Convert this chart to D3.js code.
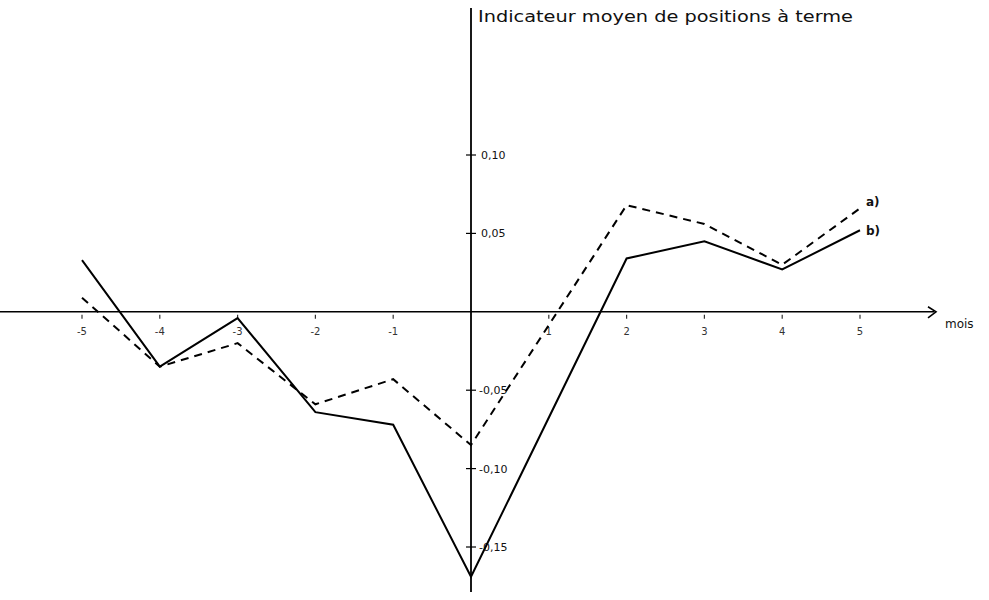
<!DOCTYPE html>
<html lang="fr">
<head>
    <meta charset="UTF-8">
    <title>Indicateur moyen de positions à terme</title>
    <script src="https://d3js.org/d3.v7.min.js"></script>
    <style>
        body { margin: 0; background: #fff; }
        text { font-family: "DejaVu Sans", sans-serif; fill: #111; }
    </style>
</head>
<body>
<script>
    // months around the event (the lines run straight through month 1)
    var monthsA = [-5, -4, -3, -2, -1, 0, 2, 3, 4, 5];
    var valuesA = [0.009, -0.035, -0.020, -0.059, -0.043, -0.085, 0.068, 0.056, 0.030, 0.066];   // dashed (a)
    var monthsB = [-5, -4, -3, -2, -1, 0, 2, 3, 4, 5];
    var valuesB = [0.033, -0.035, -0.004, -0.064, -0.072, -0.169, 0.034, 0.045, 0.027, 0.052];   // solid (b)

    var xTicks = [-5, -4, -3, -2, -1, 1, 2, 3, 4, 5];
    var yTicks = [0.10, 0.05, -0.05, -0.10, -0.15];
    var yTickLabels = ["0,10", "0,05", "-0,05", "-0,10", "-0,15"];

    var w = 989, h = 600;

    var x = d3.scaleLinear().domain([-5, 5]).range([82, 860]);
    var y = d3.scaleLinear().domain([0.10, -0.15]).range([155, 547]);

    var svg = d3.select("body").append("svg")
        .attr("width", w).attr("height", h)
        .style("background", "#fff");

    var x0 = x(0), y0 = y(0);

    // axes
    svg.append("line")
        .attr("x1", 0).attr("x2", 934)
        .attr("y1", y0).attr("y2", y0)
        .attr("stroke", "#000").attr("stroke-width", 1.6);
    // arrow head
    svg.append("path")
        .attr("d", "M" + 928 + "," + (y0 - 5) + " L" + 936 + "," + y0 + " L" + 928 + "," + (y0 + 6))
        .attr("fill", "none").attr("stroke", "#000").attr("stroke-width", 1.6);
    svg.append("text")
        .attr("x", 945).attr("y", y0 + 16)
        .attr("font-size", 12)
        .text("mois");

    svg.append("line")
        .attr("x1", x0).attr("x2", x0)
        .attr("y1", 8).attr("y2", 592)
        .attr("stroke", "#000").attr("stroke-width", 1.8);

    svg.append("text")
        .attr("x", 478).attr("y", 22)
        .attr("font-size", 15)
        .attr("textLength", 375)
        .attr("lengthAdjust", "spacingAndGlyphs")
        .text("Indicateur moyen de positions à terme");

    // x ticks
    svg.selectAll(".xt").data(xTicks).join("line")
        .attr("x1", d => x(d)).attr("x2", d => x(d))
        .attr("y1", y0 + 3).attr("y2", y0 + 7)
        .attr("stroke", "#333").attr("stroke-width", 1.2);
    svg.selectAll(".xl").data(xTicks).join("text")
        .attr("x", d => x(d)).attr("y", y0 + 23)
        .attr("text-anchor", "middle")
        .attr("font-size", 10)
        .style("fill", "#333")
        .text(d => d);

    // y ticks
    svg.selectAll(".yt").data(yTicks).join("line")
        .attr("x1", x0 - 5).attr("x2", x0 + 5)
        .attr("y1", d => y(d)).attr("y2", d => y(d))
        .attr("stroke", "#000").attr("stroke-width", 1.2);
    svg.selectAll(".yl").data(yTicks).join("text")
        .attr("x", d => d > 0 ? x0 + 10 : x0 + 8)
        .attr("y", d => y(d) + 4)
        .attr("font-size", 11)
        .text((d, i) => yTickLabels[i]);

    var line = d3.line().x(d => x(d[0])).y(d => y(d[1]));

    svg.append("path")
        .datum(d3.zip(monthsA, valuesA))
        .attr("d", line)
        .attr("fill", "none").attr("stroke", "#000")
        .attr("stroke-width", 2)
        .attr("stroke-dasharray", "8,6");

    svg.append("path")
        .datum(d3.zip(monthsB, valuesB))
        .attr("d", line)
        .attr("fill", "none").attr("stroke", "#000")
        .attr("stroke-width", 2);

    // series labels
    svg.append("text")
        .attr("x", x(5) + 6).attr("y", y(valuesA[valuesA.length - 1]) - 2)
        .attr("font-size", 12).attr("font-weight", "bold")
        .text("a)");
    svg.append("text")
        .attr("x", x(5) + 6).attr("y", y(valuesB[valuesB.length - 1]) + 5)
        .attr("font-size", 12).attr("font-weight", "bold")
        .text("b)");
</script>
</body>
</html>
